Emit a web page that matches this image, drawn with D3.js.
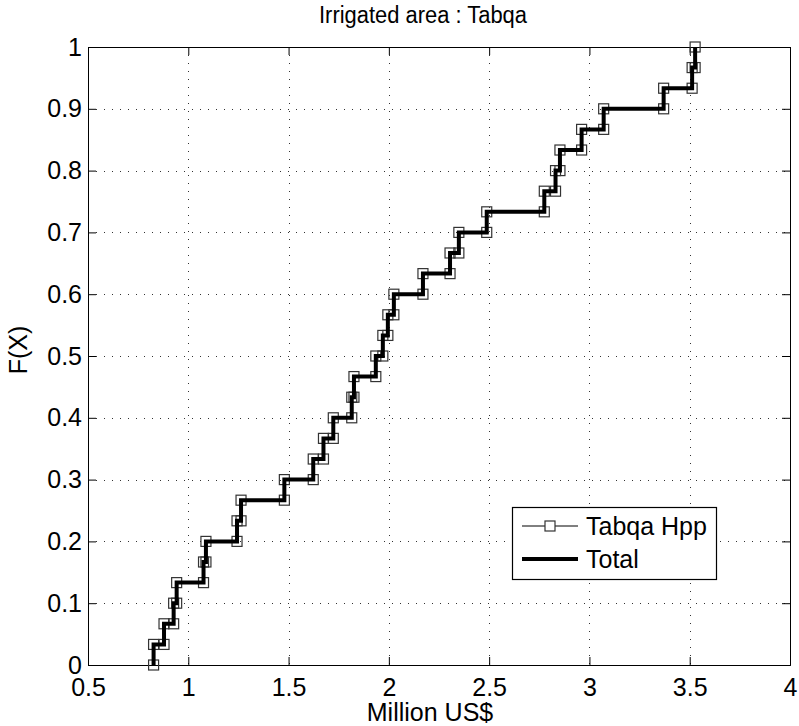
<!DOCTYPE html>
<html lang="en">
<head>
    <meta charset="UTF-8">
    <title>Irrigated area : Tabqa</title>
    <style>
      body { margin: 0; background: #fff; }
      text { font-family: "Liberation Sans", Arial, Helvetica, sans-serif; fill: #000; }
    </style>
</head>
<body>
    <!-- Load d3.js -->
    <script src="https://d3js.org/d3.v7.min.js"></script>

    <div id="my_dataviz"></div>

    <script>

    // sorted costs (million US$), one per simulation run
    var costs = [0.827, 0.879, 0.927, 0.942, 1.076, 1.088, 1.243, 1.263, 1.479, 1.623,
                 1.674, 1.723, 1.815, 1.826, 1.935, 1.970, 1.995, 2.025, 2.170, 2.305,
                 2.349, 2.488, 2.775, 2.831, 2.853, 2.961, 3.071, 3.370, 3.512, 3.527];

    // cumulative probability before and after each step
    var levels = [0, 0.0333, 0.0667, 0.1, 0.1333, 0.1667, 0.2, 0.2333, 0.2667, 0.3,
                  0.3333, 0.3667, 0.4, 0.4333, 0.4667, 0.5, 0.5333, 0.5667, 0.6, 0.6333,
                  0.6667, 0.7, 0.7333, 0.7667, 0.8, 0.8333, 0.8667, 0.9, 0.9333, 0.9667, 1];

    var xTicks = [0.5, 1, 1.5, 2, 2.5, 3, 3.5, 4];
    var yTicks = [0, 0.1, 0.2, 0.3, 0.4, 0.5, 0.6, 0.7, 0.8, 0.9, 1];
    var seriesNames = ["Tabqa Hpp", "Total"];

    // set the dimensions and margins of the graph
    var margin = {top: 47, right: 9, bottom: 61, left: 88},
        width = 799 - margin.left - margin.right,
        height = 726 - margin.top - margin.bottom;

    var svg = d3.select("#my_dataviz")
      .append("svg")
        .attr("width", width + margin.left + margin.right)
        .attr("height", height + margin.top + margin.bottom)
      .append("g")
        .attr("transform", "translate(" + margin.left + "," + margin.top + ")");

    // scales
    var x = d3.scaleLinear().domain([0.5, 4]).range([0, width]);
    var y = d3.scaleLinear().domain([0, 1]).range([height, 0]);

    // grid (dotted, matlab style)
    svg.append("g")
      .selectAll("line")
      .data(xTicks.slice(1, -1))
      .join("line")
        .attr("x1", function(d) { return Math.round(x(d)) + 0.5 })
        .attr("x2", function(d) { return Math.round(x(d)) + 0.5 })
        .attr("y1", 0)
        .attr("y2", height)
        .attr("stroke", "#333")
        .style("stroke-dasharray", "1,7");
    svg.append("g")
      .selectAll("line")
      .data(yTicks.slice(1, -1))
      .join("line")
        .attr("x1", 0)
        .attr("x2", width)
        .attr("y1", function(d) { return Math.round(y(d)) + 0.5 })
        .attr("y2", function(d) { return Math.round(y(d)) + 0.5 })
        .attr("stroke", "#333")
        .style("stroke-dasharray", "1,7");

    // axes, ticks inside on all four sides
    var tickLen = 8;
    var xAxis = svg.append("g")
      .attr("transform", "translate(0," + height + ")")
      .call(d3.axisBottom(x).tickValues(xTicks).tickSize(-tickLen).tickPadding(13).tickFormat(d3.format("")));
    var yAxis = svg.append("g")
      .call(d3.axisLeft(y).tickValues(yTicks).tickSize(-tickLen).tickPadding(6).tickFormat(d3.format("")));
    svg.append("g")
      .call(d3.axisTop(x).tickValues(xTicks).tickSize(-tickLen).tickFormat(""));
    svg.append("g")
      .attr("transform", "translate(" + width + ",0)")
      .call(d3.axisRight(y).tickValues(yTicks).tickSize(-tickLen).tickFormat(""));

    svg.selectAll(".domain").attr("stroke", "#000").attr("stroke-width", 1);
    svg.selectAll(".tick line").attr("stroke", "#000");
    xAxis.selectAll("text").style("font-size", "25px").attr("fill", "#000");
    yAxis.selectAll("text").style("font-size", "25px").attr("fill", "#000");

    // stair vertices of the empirical cdf
    var stairs = [];
    costs.forEach(function(c, i) {
      stairs.push([c, levels[i]]);
      stairs.push([c, levels[i + 1]]);
    });

    var line = d3.line()
      .x(function(d) { return x(d[0]) })
      .y(function(d) { return y(d[1]) });

    // Tabqa Hpp: thin line with square markers
    svg.append("path")
      .datum(stairs)
      .attr("d", line)
      .attr("fill", "none")
      .attr("stroke", "#000")
      .attr("stroke-width", 1);

    var ms = 10;
    svg.append("g")
      .selectAll("rect")
      .data(stairs)
      .join("rect")
        .attr("x", function(d) { return x(d[0]) - ms / 2 })
        .attr("y", function(d) { return y(d[1]) - ms / 2 })
        .attr("width", ms)
        .attr("height", ms)
        .attr("fill", "none")
        .attr("stroke", "#333")
        .attr("stroke-width", 1.2);

    // Total: thick line on top
    svg.append("path")
      .datum(stairs)
      .attr("d", line)
      .attr("fill", "none")
      .attr("stroke", "#000")
      .attr("stroke-width", 4)
      .attr("stroke-linejoin", "miter");

    // title and labels
    svg.append("text")
      .attr("x", 423 - margin.left)
      .attr("y", -24)
      .attr("text-anchor", "middle")
      .attr("textLength", 208)
      .attr("lengthAdjust", "spacingAndGlyphs")
      .style("font-size", "23px")
      .text("Irrigated area : Tabqa");

    svg.append("text")
      .attr("x", 430 - margin.left)
      .attr("y", height + 56)
      .attr("text-anchor", "middle")
      .style("font-size", "25px")
      .text("Million US$");

    svg.append("text")
      .attr("transform", "translate(-61," + (350 - margin.top) + ") rotate(-90)")
      .attr("text-anchor", "middle")
      .style("font-size", "25px")
      .text("F(X)");

    // legend
    var lg = svg.append("g")
      .attr("transform", "translate(" + (512 - margin.left) + "," + (507 - margin.top) + ")");
    lg.append("rect")
      .attr("x", 0.5)
      .attr("y", 0.5)
      .attr("width", 204)
      .attr("height", 72)
      .attr("fill", "#fff")
      .attr("stroke", "#000")
      .attr("stroke-width", 1.2);

    lg.selectAll("line.key")
      .data(seriesNames)
      .join("line")
        .attr("class", "key")
        .attr("x1", 10)
        .attr("x2", 66)
        .attr("y1", function(d, i) { return 19 + i * 33 })
        .attr("y2", function(d, i) { return 19 + i * 33 })
        .attr("stroke", "#000")
        .attr("stroke-width", function(d, i) { return i == 0 ? 1 : 4 });

    lg.append("rect")
      .attr("x", 38 - ms / 2)
      .attr("y", 19 - ms / 2)
      .attr("width", ms)
      .attr("height", ms)
      .attr("fill", "#fff")
      .attr("stroke", "#333")
      .attr("stroke-width", 1.2);

    lg.selectAll("text")
      .data(seriesNames)
      .join("text")
        .attr("x", 74)
        .attr("y", function(d, i) { return 28 + i * 33 })
        .style("font-size", "25px")
        .text(function(d) { return d });

    </script>
</body>
</html>
